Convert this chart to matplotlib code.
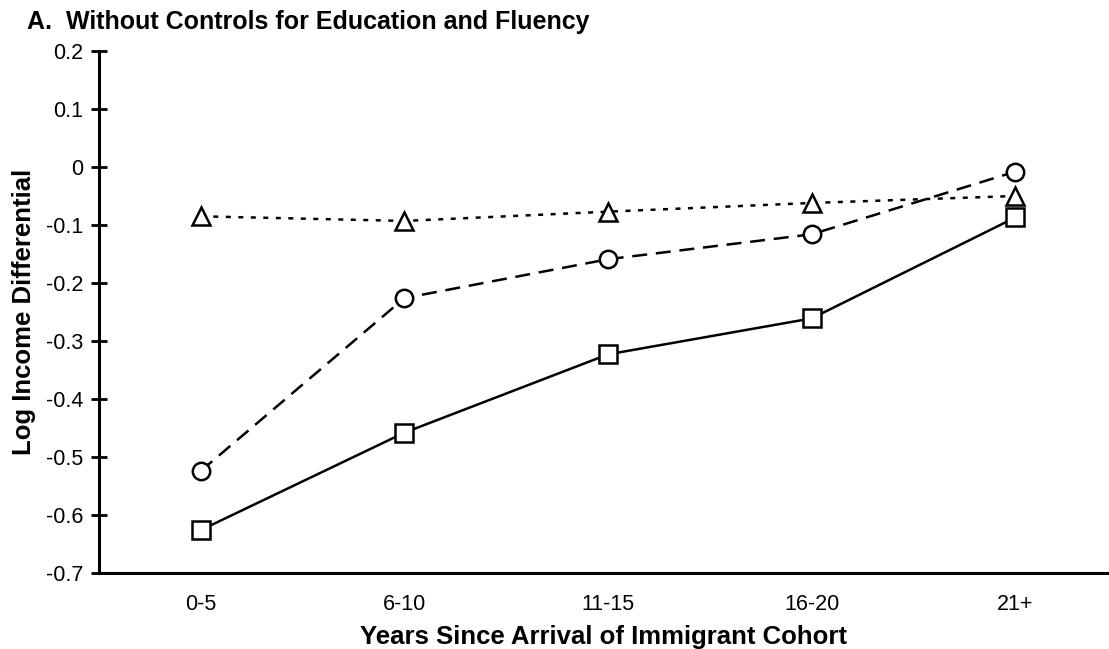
import matplotlib.pyplot as plt

plt.rcParams['font.family'] = ['Liberation Sans', 'DejaVu Sans']

# Categorias del eje X
cohorts = ["0-5", "6-10", "11-15", "16-20", "21+"]

# Series (diferencial de ingreso logaritmico)
squares = [-0.626, -0.458, -0.323, -0.261, -0.087]
circles = [-0.524, -0.226, -0.159, -0.116, -0.008]
triangles = [-0.085, -0.093, -0.077, -0.062, -0.050]

yticks = [0.2, 0.1, 0, -0.1, -0.2, -0.3, -0.4, -0.5, -0.6, -0.7]
ytick_labels = ["0.2", "0.1", "0", "-0.1", "-0.2", "-0.3", "-0.4", "-0.5", "-0.6", "-0.7"]


def main():
    fig = plt.figure(figsize=(11.09, 6.49), dpi=100)
    ax = fig.add_axes([99 / 1109, 1 - 573 / 649, (1107 - 99) / 1109, (573 - 51) / 649])

    x = list(range(len(cohorts)))
    marker_style = dict(markerfacecolor='white', markeredgecolor='black',
                        markeredgewidth=1.8, markersize=12.5, color='black', linewidth=1.8)

    ax.plot(x, triangles, marker='^', dashes=(2.0, 3.0), zorder=3, **marker_style)
    ax.plot(x, circles, marker='o', dashes=(6, 3.5), zorder=3, **marker_style)
    ax.plot(x, squares, marker='s', linestyle='-', zorder=3, **marker_style)

    ax.set_xlim(-0.5, 4.45)
    ax.set_ylim(-0.7, 0.2)

    ax.set_xticks(x)
    ax.set_xticklabels(cohorts, fontsize=15.5)
    ax.set_yticks(yticks)
    ax.set_yticklabels(ytick_labels, fontsize=15.5)

    ax.tick_params(axis='y', direction='inout', length=11, width=2, pad=6)
    ax.tick_params(axis='x', length=0, pad=15)

    for side in ['top', 'right']:
        ax.spines[side].set_visible(False)
    for side in ['left', 'bottom']:
        ax.spines[side].set_linewidth(2.2)

    ax.set_ylabel("Log Income Differential", fontsize=18.5, fontweight='bold', labelpad=7)
    ax.set_xlabel("Years Since Arrival of Immigrant Cohort", fontsize=18.5, fontweight='bold', labelpad=7.5)

    fig.text(27 / 1109, 1 - 22 / 649, "A.  Without Controls for Education and Fluency",
             fontsize=18, fontweight='bold', va='center', ha='left')

    fig.savefig("out.png", dpi=100)


if __name__ == "__main__":
    main()
